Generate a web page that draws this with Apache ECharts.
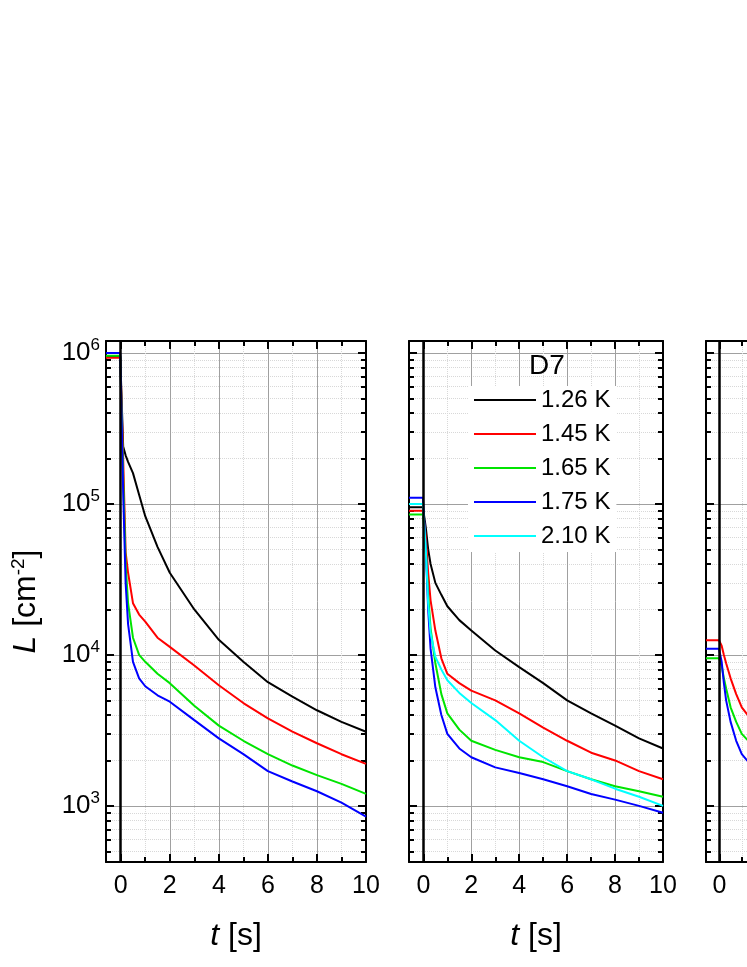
<!DOCTYPE html>
<html>
<head>
<meta charset="utf-8">
<script src="https://cdn.jsdelivr.net/npm/echarts@6/dist/echarts.min.js"></script>
<style>html,body{margin:0;background:#fff;overflow:hidden;width:747px;height:967px}#main{width:960px;height:967px}</style>
</head>
<body>
<div id="main"></div>
<script>
var t = [-0.6, -0.02, 0.1, 0.2, 0.3, 0.5, 0.75, 1, 1.5, 2, 3, 4, 5, 6, 7, 8, 9, 10];

// panel 1
var p1Black = [9.5e5, 9.5e5, 2.4e5, 2.1e5, 1.9e5, 1.6e5, 1.15e5, 8.3e4, 5.2e4, 3.5e4, 2e4, 1.26e4, 9e3, 6.6e3, 5.3e3, 4.3e3, 3.6e3, 3.1e3];
var p1Red   = [9.3e5, 9.3e5, 2e5, 4.8e4, 3.5e4, 2.2e4, 1.85e4, 1.66e4, 1.3e4, 1.13e4, 8.5e3, 6.3e3, 4.8e3, 3.8e3, 3.1e3, 2.6e3, 2.2e3, 1.9e3];
var p1Green = [9.6e5, 9.6e5, 1.5e5, 4e4, 2.2e4, 1.3e4, 1e4, 9e3, 7.5e3, 6.5e3, 4.6e3, 3.4e3, 2.7e3, 2.2e3, 1.85e3, 1.6e3, 1.4e3, 1.2e3];
var p1Blue  = [1e6, 1e6, 1.2e5, 3e4, 1.6e4, 9e3, 7e3, 6.2e3, 5.4e3, 4.9e3, 3.7e3, 2.8e3, 2.2e3, 1.7e3, 1.45e3, 1.25e3, 1.05e3, 850];

// panel 2
var p2Black = [9.5e4, 9.5e4, 7e4, 5e4, 4e4, 3e4, 2.5e4, 2.1e4, 1.7e4, 1.45e4, 1.07e4, 8.3e3, 6.5e3, 5e3, 4.1e3, 3.4e3, 2.8e3, 2.4e3];
var p2Red   = [9e4, 9e4, 6e4, 3.5e4, 2.3e4, 1.45e4, 9.5e3, 7.5e3, 6.5e3, 5.8e3, 5e3, 4.1e3, 3.3e3, 2.7e3, 2.25e3, 2e3, 1.7e3, 1.5e3];
var p2Green = [8.5e4, 8.5e4, 5e4, 2.5e4, 1.5e4, 8.8e3, 5.5e3, 4.1e3, 3.2e3, 2.7e3, 2.35e3, 2.1e3, 1.95e3, 1.7e3, 1.5e3, 1.35e3, 1.25e3, 1.15e3];
var p2Blue  = [1.1e5, 1.1e5, 5e4, 2e4, 1.1e4, 6.1e3, 4e3, 3e3, 2.4e3, 2.1e3, 1.8e3, 1.65e3, 1.5e3, 1.35e3, 1.2e3, 1.1e3, 1e3, 900];
var p2Cyan  = [1e5, 1e5, 5e4, 2.2e4, 1.4e4, 9.7e3, 8e3, 6.8e3, 5.6e3, 4.8e3, 3.7e3, 2.7e3, 2.1e3, 1.7e3, 1.5e3, 1.3e3, 1.15e3, 1e3];

// panel 3 (mostly cut off)
var p3Red   = [1.25e4, 1.25e4, 1.15e4, 1e4, 8.8e3, 7e3, 5.5e3, 4.5e3, 3.6e3, 3e3, 2.4e3, 2e3, 1.7e3, 1.5e3, 1.3e3, 1.2e3, 1.1e3, 1e3];
var p3Green = [9.5e3, 9.5e3, 8.5e3, 7e3, 6e3, 4.5e3, 3.6e3, 3e3, 2.5e3, 2.1e3, 1.7e3, 1.45e3, 1.3e3, 1.15e3, 1.05e3, 950, 880, 820];
var p3Blue  = [1.1e4, 1.1e4, 9e3, 6.5e3, 5e3, 3.6e3, 2.7e3, 2.2e3, 1.8e3, 1.6e3, 1.3e3, 1.15e3, 1e3, 920, 850, 790, 740, 700];

var legendNames = ['1.26 K', '1.45 K', '1.65 K', '1.75 K', '2.10 K'];
var colors = ['#000000', '#ff0000', '#00e400', '#0000ff', '#00ffff'];

var xMajor = [0, 2, 4, 6, 8, 10];
var xMinor = [1, 3, 5, 7, 9];
var yMajor = [1e3, 1e4, 1e5, 1e6];
var yMinor = [500, 600, 700, 800, 900, 2e3, 3e3, 4e3, 5e3, 6e3, 7e3, 8e3, 9e3,
  2e4, 3e4, 4e4, 5e4, 6e4, 7e4, 8e4, 9e4, 2e5, 3e5, 4e5, 5e5, 6e5, 7e5, 8e5, 9e5];

var font = 'Liberation Sans, Arial, sans-serif';
var grids = [
  {left: 106, top: 341, width: 260, height: 521},
  {left: 409, top: 341, width: 254, height: 521},
  {left: 706, top: 341, width: 254, height: 521}
];

var xAxes = [], yAxes = [];
function addAxes(g) {
  var xb = {type: 'value', gridIndex: g, min: -0.6, max: 10};
  var yb = {type: 'log', gridIndex: g, min: 425, max: 1.2e6, logBase: 10};
  xAxes.push(Object.assign({}, xb, {
    position: 'bottom',
    name: '{i|t} [s]', nameLocation: 'middle', nameGap: 58,
    nameTextStyle: {fontFamily: font, fontSize: 32, color: '#000', rich: {i: {fontStyle: 'italic', fontSize: 32, fontFamily: font}}},
    axisLine: {onZero: false, lineStyle: {color: '#000', width: 2}},
    axisTick: {inside: true, length: 8, lineStyle: {width: 2}, customValues: xMajor},
    axisLabel: {customValues: xMajor, fontFamily: font, fontSize: 25, color: '#000', margin: 12},
    splitLine: {show: true, lineStyle: {color: '#a0a0a0', width: 1}}
  }));
  xAxes.push(Object.assign({}, xb, {
    position: 'bottom', axisLine: {show: false, onZero: false},
    axisTick: {inside: true, length: 5, lineStyle: {color: '#000', width: 2}, customValues: xMinor},
    axisLabel: {show: false},
    splitLine: {show: true, lineStyle: {color: '#d8d8d8', type: 'dotted'}}
  }));
  xAxes.push(Object.assign({}, xb, {
    position: 'top', axisLine: {onZero: false, lineStyle: {color: '#000', width: 2}},
    axisTick: {inside: true, length: 8, lineStyle: {width: 2}, customValues: xMajor},
    axisLabel: {show: false}, splitLine: {show: false}
  }));
  xAxes.push(Object.assign({}, xb, {
    position: 'top', axisLine: {show: false, onZero: false},
    axisTick: {inside: true, length: 5, lineStyle: {color: '#000', width: 2}, customValues: xMinor},
    axisLabel: {show: false}, splitLine: {show: false}
  }));
  yAxes.push(Object.assign({}, yb, {
    position: 'left',
    name: g === 0 ? '{i|L} [cm{s|-2}]' : '', nameLocation: 'middle', nameGap: 62, nameRotate: 90,
    nameTextStyle: {fontFamily: font, fontSize: 32, color: '#000',
      rich: {i: {fontStyle: 'italic', fontSize: 32, fontFamily: font}, s: {fontSize: 19, verticalAlign: 'top', padding: [0, 0, 16, 0], fontFamily: font}}},
    axisLine: {onZero: false, lineStyle: {color: '#000', width: 2}},
    axisTick: {inside: true, length: 8, lineStyle: {width: 2}, customValues: yMajor},
    axisLabel: {show: g === 0, customValues: yMajor, fontFamily: font, fontSize: 26, color: '#000', margin: 6,
      formatter: function (v) { return '10{s|' + Math.round(Math.log10(v)) + '}'; },
      rich: {s: {fontSize: 17, verticalAlign: 'top', padding: [0, 0, 16, 0], fontFamily: font, color: '#000'}}},
    splitLine: {show: true, lineStyle: {color: '#a0a0a0', width: 1}}
  }));
  yAxes.push(Object.assign({}, yb, {
    position: 'left', axisLine: {show: false, onZero: false},
    axisTick: {inside: true, length: 5, lineStyle: {color: '#000', width: 2}, customValues: yMinor},
    axisLabel: {show: false},
    splitLine: {show: true, lineStyle: {color: '#d8d8d8', type: 'dotted'}}
  }));
  yAxes.push(Object.assign({}, yb, {
    position: 'right', axisLine: {onZero: false, lineStyle: {color: '#000', width: 2}},
    axisTick: {inside: true, length: 8, lineStyle: {width: 2}, customValues: yMajor},
    axisLabel: {show: false}, splitLine: {show: false}
  }));
  yAxes.push(Object.assign({}, yb, {
    position: 'right', axisLine: {show: false, onZero: false},
    axisTick: {inside: true, length: 5, lineStyle: {color: '#000', width: 2}, customValues: yMinor},
    axisLabel: {show: false}, splitLine: {show: false}
  }));
}
addAxes(0); addAxes(1); addAxes(2);

function pairs(v) { return t.map(function (x, i) { return [x, v[i]]; }); }
var series = [];
function addSeries(g, name, ci, vals, showZero) {
  var s = {
    type: 'line', name: name, xAxisIndex: g * 4, yAxisIndex: g * 4,
    data: pairs(vals), showSymbol: false, smooth: false,
    lineStyle: {color: colors[ci], width: 2}, itemStyle: {color: colors[ci]},
    z: 3
  };
  if (showZero) {
    s.markLine = {silent: true, symbol: 'none', label: {show: false},
      lineStyle: {color: '#000', width: 2.5, type: 'solid'}, data: [{xAxis: 0}]};
  }
  series.push(s);
}
addSeries(0, legendNames[0], 0, p1Black, true);
addSeries(0, legendNames[1], 1, p1Red);
addSeries(0, legendNames[2], 2, p1Green);
addSeries(0, legendNames[3], 3, p1Blue);
addSeries(1, legendNames[0], 0, p2Black, true);
addSeries(1, legendNames[1], 1, p2Red);
addSeries(1, legendNames[2], 2, p2Green);
addSeries(1, legendNames[3], 3, p2Blue);
addSeries(1, legendNames[4], 4, p2Cyan);
addSeries(2, legendNames[1], 1, p3Red, true);
addSeries(2, legendNames[2], 2, p3Green);
addSeries(2, legendNames[3], 3, p3Blue);

var myChart = echarts.init(document.getElementById('main'));
myChart.setOption({
  animation: false,
  backgroundColor: '#fff',
  title: {text: 'D7', left: 524, top: 347, textStyle: {fontFamily: font, fontSize: 28, fontWeight: 'normal', color: '#000'}},
  legend: {
    data: legendNames, orient: 'vertical', left: 468, top: 386,
    itemWidth: 62, itemHeight: 2, itemGap: 10, icon: 'rect',
    backgroundColor: '#fff', padding: [2, 6, 4, 6],
    textStyle: {fontFamily: font, fontSize: 24, color: '#000'},
    inactiveColor: '#000'
  },
  grid: grids,
  xAxis: xAxes,
  yAxis: yAxes,
  series: series
});
</script>
</body>
</html>
